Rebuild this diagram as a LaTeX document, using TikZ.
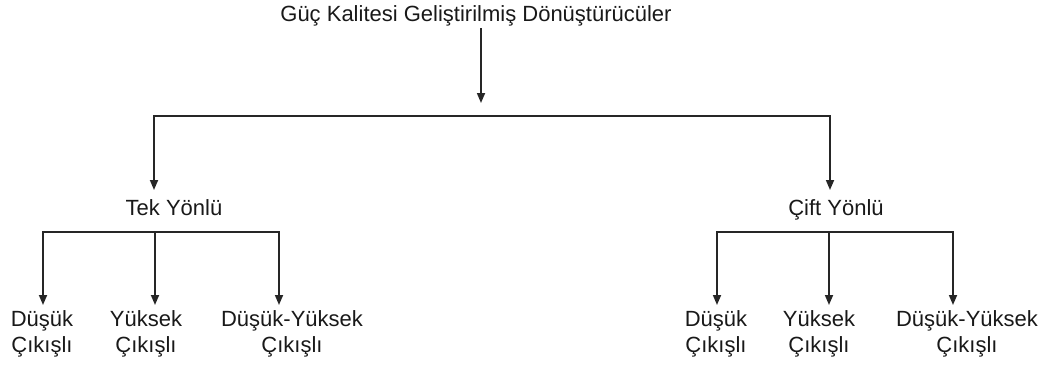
\documentclass[tikz,border=0pt]{standalone}
\usepackage{fontspec}
\setmainfont{Liberation Sans}
\usetikzlibrary{arrows.meta}
\begin{document}
\begin{tikzpicture}[x=1pt,y=-1pt,
  lbl/.style={inner sep=0pt,font=\fontsize{22}{26}\selectfont,align=center,text=black!90},
  ln/.style={draw=black!85,line width=1.7pt,line cap=rect},
  arr/.style={draw=black!85,line width=1.7pt,-{Triangle[length=10pt,width=8pt]}}]
\useasboundingbox (0,0) rectangle (1055,370);
% texts
\node[lbl,anchor=base] (title) at (476,21) {Güç Kalitesi Geliştirilmiş Dönüştürücüler};
\node[lbl,anchor=base] (tek) at (174,215) {Tek Yönlü};
\node[lbl,anchor=base] (cift) at (836,215) {Çift Yönlü};
\node[lbl,anchor=north] (l1) at (42,310) {Düşük\\Çıkışlı};
\node[lbl,anchor=north] (l2) at (146,310) {Yüksek\\Çıkışlı};
\node[lbl,anchor=north] (l3) at (292,310) {Düşük-Yüksek\\Çıkışlı};
\node[lbl,anchor=north] (r1) at (716,310) {Düşük\\Çıkışlı};
\node[lbl,anchor=north] (r2) at (819,310) {Yüksek\\Çıkışlı};
\node[lbl,anchor=north] (r3) at (967,310) {Düşük-Yüksek\\Çıkışlı};
% junctions
\coordinate (s0) at (481,28);
\coordinate (e0) at (481,103);
\coordinate (b1) at (154,116);
\coordinate (b2) at (830,116);
\coordinate (e1) at (154,190);
\coordinate (e2) at (830,190);
\coordinate (lb1) at (43,232);
\coordinate (lb2) at (155,232);
\coordinate (lb3) at (279,232);
\coordinate (rb1) at (717,232);
\coordinate (rb2) at (829,232);
\coordinate (rb3) at (953,232);
% connectors
\draw[arr] (s0) -- (e0);
\draw[ln] (b1) -- (b2);
\draw[arr] (b1) -- (e1);
\draw[arr] (b2) -- (e2);
\draw[ln] (lb1) -- (lb3);
\draw[arr] (lb1) -- (lb1 |- 0,305);
\draw[arr] (lb2) -- (lb2 |- 0,305);
\draw[arr] (lb3) -- (lb3 |- 0,305);
\draw[ln] (rb1) -- (rb3);
\draw[arr] (rb1) -- (rb1 |- 0,305);
\draw[arr] (rb2) -- (rb2 |- 0,305);
\draw[arr] (rb3) -- (rb3 |- 0,305);
\end{tikzpicture}
\end{document}
